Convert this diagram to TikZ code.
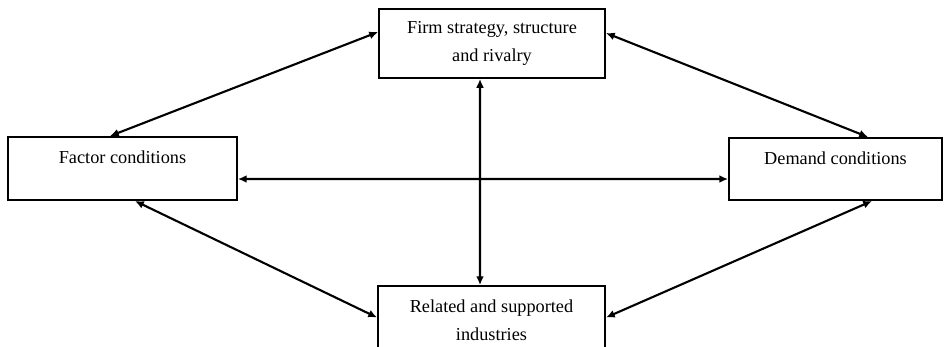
\documentclass[tikz,border=0pt]{standalone}
\usepackage{fontspec}
\setmainfont{Liberation Serif}
\usetikzlibrary{arrows.meta}
\begin{document}
\begin{tikzpicture}[
  x=0.02cm, y=-0.02cm,
  box/.style={draw, line width=1.1pt, inner sep=0pt, align=center,
    font=\fontsize{10.4}{16}\selectfont},
  sidebox/.style={draw, line width=1.1pt, inner sep=0pt,
    text height=7pt, text depth=12.4pt, font=\fontsize{10.4}{16}\selectfont},
  link/.style={{Latex[length=5pt,width=4.5pt]}-{Latex[length=5pt,width=4.5pt]}, line width=1.2pt}
]
\useasboundingbox (0,0) rectangle (946,346);
\clip (0,0) rectangle (946,346);

% --- the four boxes ---
\node[box, minimum width=4.52cm, minimum height=1.38cm] (firm) at (492,43.5) {Firm strategy, structure\\and rivalry};
\node[sidebox, minimum width=4.58cm, minimum height=1.26cm] (factor) at (122.5,168.5) {Factor conditions};
\node[sidebox, minimum width=4.26cm, minimum height=1.24cm] (demand) at (835.5,169) {Demand conditions};
\node[box, minimum width=4.54cm, minimum height=1.38cm] (related) at (491.5,320.5) {Related and supported\\industries};

% --- outer links ---
\draw[link] ([yshift=0.23cm]firm.west) -- ([xshift=-0.25cm]factor.north);
\draw[link] ([yshift=0.21cm]firm.east) -- ([xshift=0.65cm]demand.north);
\draw[link] ([xshift=0.25cm]factor.south) -- ([yshift=0.06cm]related.west);
\draw[link] ([xshift=0.73cm]demand.south) -- ([yshift=0.06cm]related.east);

% --- cross links ---
\draw[link] ([yshift=-0.21cm]factor.east) -- ([yshift=-0.2cm]demand.west);
\draw[link] ([xshift=-0.24cm]firm.south) -- ([xshift=-0.23cm]related.north);

\end{tikzpicture}
\end{document}
